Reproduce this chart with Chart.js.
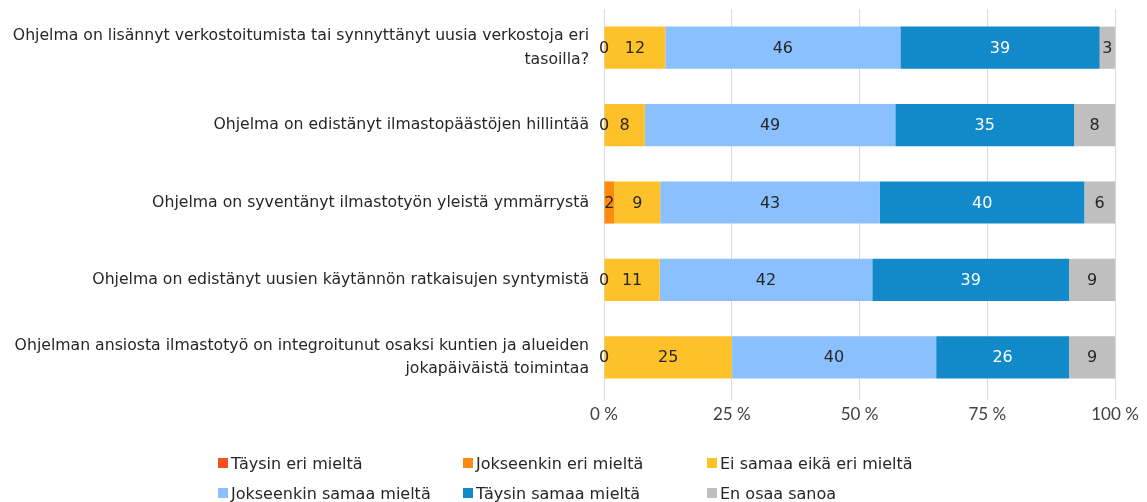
<!DOCTYPE html>
<html><head><meta charset="utf-8">
<script src="https://cdn.jsdelivr.net/npm/chart.js@4/dist/chart.umd.min.js"></script>
<style>
html,body{margin:0;padding:0;background:#fff;}
#wrap{position:relative;width:1147px;height:502px;}
#legend{position:absolute;left:0;top:0;width:1147px;height:502px;pointer-events:none;font-family:"DejaVu Sans",sans-serif;font-size:16px;color:#262626;}
.li{position:absolute;display:flex;align-items:center;white-space:nowrap;}
.sw{width:10px;height:10px;margin-right:3px;}
</style></head><body>
<div id="wrap"><canvas id="c" width="1147" height="502"></canvas><div id="legend"></div></div>
<script>
const categories = [
  ["Ohjelma on lisännyt verkostoitumista tai synnyttänyt uusia verkostoja eri","tasoilla?"],
  "Ohjelma on edistänyt ilmastopäästöjen hillintää",
  "Ohjelma on syventänyt ilmastotyön yleistä ymmärrystä",
  "Ohjelma on edistänyt uusien käytännön ratkaisujen syntymistä",
  ["Ohjelman ansiosta ilmastotyö on integroitunut osaksi kuntien ja alueiden","jokapäiväistä toimintaa"]
];
const seriesNames = ["Täysin eri mieltä","Jokseenkin eri mieltä","Ei samaa eikä eri mieltä","Jokseenkin samaa mieltä","Täysin samaa mieltä","En osaa sanoa"];
const taysinEri = [0,0,0,0,0];
const jokseenkinEri = [0,0,2,0,0];
const eiSamaaEikaEri = [12,8,9,10.9,25];
const jokseenkinSamaa = [46,49,43,41.6,40];
const taysinSamaa = [39,35,40,38.5,26];
const enOsaa = [3,8,6,9,9];
const tickLabels = ["0 %","25 %","50 %","75 %","100 %"];

const colors = ["#F4511E","#FF8A0F","#FFC12A","#8BC0FF","#1289C9","#BFBFBF"];
const labelColors = [null,"#262626","#262626","#262626","#ffffff","#262626"];
const values = [taysinEri,jokseenkinEri,eiSamaaEikaEri,jokseenkinSamaa,taysinSamaa,enOsaa];

const datasets = values.map((v,i)=>({
  label: seriesNames[i], data: v, backgroundColor: colors[i],
  categoryPercentage: 1, barPercentage: 0.545, borderWidth: 0,
  showLabels: labelColors[i] !== null, labelColor: labelColors[i]
}));

const labelPlugin = {
  id:'barLabels',
  afterDatasetsDraw(chart){
    const ctx = chart.ctx;
    ctx.save();
    ctx.font = '16px "DejaVu Sans", sans-serif';
    ctx.textAlign='center'; ctx.textBaseline='middle';
    chart.data.datasets.forEach((ds,di)=>{
      if(!ds.showLabels) return;
      chart.getDatasetMeta(di).data.forEach((bar,i)=>{
        const x = (bar.x + bar.base)/2;
        ctx.fillStyle = ds.labelColor;
        ctx.fillText(String(Math.round(ds.data[i])), x, bar.y+1);
      });
    });
    ctx.restore();
  }
};

new Chart(document.getElementById('c'),{
  type:'bar',
  data:{labels:categories,datasets},
  options:{
    indexAxis:'y', responsive:false, animation:false,
    layout:{padding:{top:9,right:32,bottom:76,left:0}},
    plugins:{legend:{display:false},tooltip:{enabled:false}},
    scales:{
      x:{stacked:true,min:0,max:100,
        afterBuildTicks(s){s.ticks=[0,25,50,75,100].map(v=>({value:v}));},
        afterFit(s){s.height=30;s.paddingLeft=0;s.paddingRight=0;},
        grid:{color:'#D9D9D9',tickLength:4,drawTicks:true},
        border:{display:false},
        ticks:{padding:4,color:'#404040',font:{family:'Lato, sans-serif',size:17},
          callback:(v,i)=>tickLabels[i]}},
      y:{stacked:true,
        afterFit(s){s.width=604;s.paddingTop=0;s.paddingBottom=0;},
        grid:{display:false,drawTicks:false},
        border:{display:false},
        ticks:{padding:15,color:'#262626',font:{family:'"DejaVu Sans", sans-serif',size:15.7,lineHeight:1.5}}}
    }
  },
  plugins:[labelPlugin]
});

const leg = document.getElementById('legend');
const pos = [[218,463],[463,463],[707,463],[218,493],[463,493],[707,493]];
seriesNames.forEach((n,i)=>{
  const d=document.createElement('div'); d.className='li';
  d.style.left=pos[i][0]+'px'; d.style.top=(pos[i][1]-12)+'px'; d.style.height='24px';
  d.innerHTML='<span class="sw" style="background:'+colors[i]+'"></span><span>'+n+'</span>';
  leg.appendChild(d);
});
</script>
</body></html>
